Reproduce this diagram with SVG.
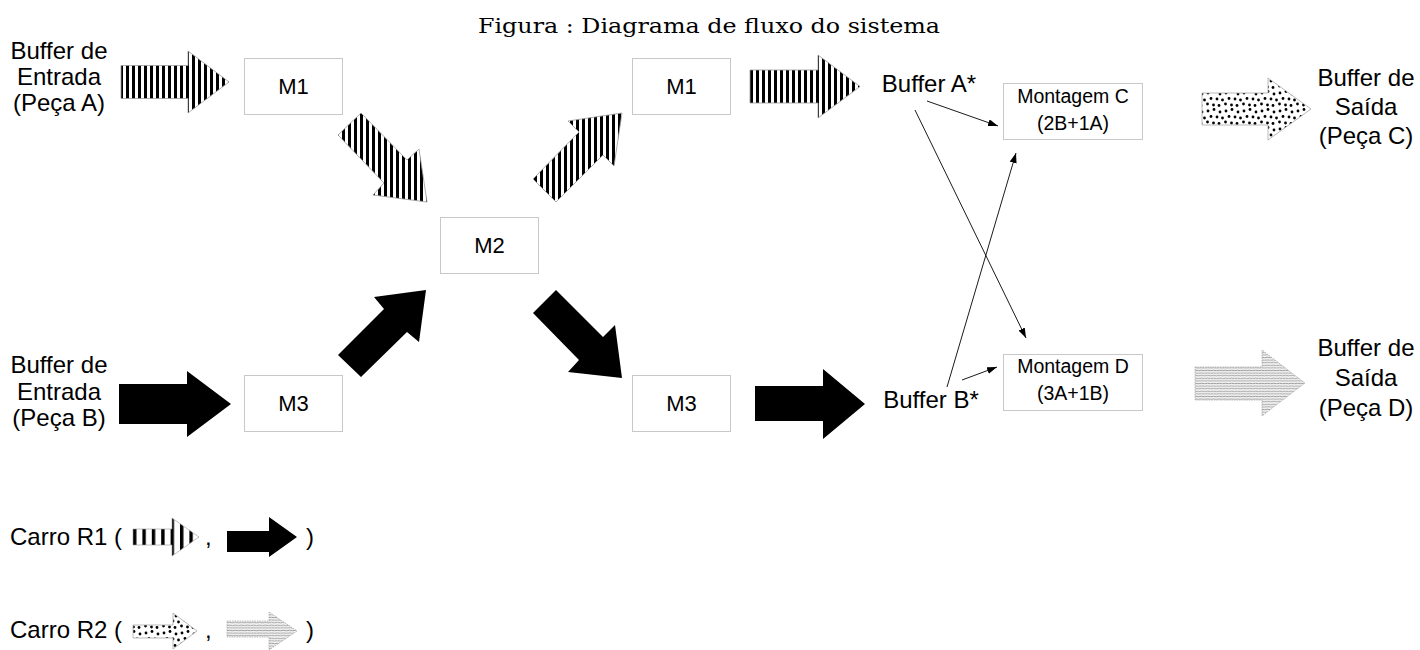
<svg xmlns="http://www.w3.org/2000/svg" width="1420" height="650" viewBox="0 0 1420 650">
  <style>
    .lbl { font-family: "Liberation Sans", Arial, sans-serif; font-size: 24px; fill: #000; text-anchor: middle; }
    .mach { font-family: "Liberation Sans", Arial, sans-serif; font-size: 22px; fill: #000; text-anchor: middle; }
    .asm { font-family: "Liberation Sans", Arial, sans-serif; font-size: 19.5px; fill: #000; text-anchor: middle; }
    .leg { font-family: "Liberation Sans", Arial, sans-serif; font-size: 24px; fill: #000; }
    .title { font-family: "DejaVu Serif", "Liberation Serif", serif; font-size: 21px; fill: #000; text-anchor: middle; }
    .box { fill: #fff; stroke: #c8c8c8; stroke-width: 1; }
    .striped { fill: url(#stripes); stroke: #999; stroke-width: 0.8; }
    .solid { fill: #000; }
    .dotted { fill: url(#dots); stroke: #aaa; stroke-width: 0.8; }
    .lined { fill: url(#hlines); stroke: #aaa; stroke-width: 0.8; stroke-dasharray: 1.5 1; }
    .conn { stroke: #000; stroke-width: 0.9; fill: none; marker-end: url(#head); }
  </style>
  <defs>
    <pattern id="stripes" patternUnits="userSpaceOnUse" width="6" height="6">
      <rect width="6" height="6" fill="#fff"/>
      <rect width="3" height="6" fill="#000"/>
    </pattern>
    <pattern id="stripesWide" patternUnits="userSpaceOnUse" width="9.4" height="6" x="133">
      <rect width="9.4" height="6" fill="#fff"/>
      <rect width="3.4" height="6" fill="#000"/>
    </pattern>
    <pattern id="dots" patternUnits="userSpaceOnUse" width="18" height="18">
      <rect width="18" height="18" fill="#fff"/>
      <g fill="#000">
        <circle cx="2" cy="3" r="1.4"/>
        <circle cx="8" cy="1.5" r="1.4"/>
        <circle cx="14" cy="4" r="1.4"/>
        <circle cx="5" cy="8.5" r="1.4"/>
        <circle cx="11" cy="9" r="1.4"/>
        <circle cx="16.5" cy="10" r="1.4"/>
        <circle cx="1.5" cy="14" r="1.4"/>
        <circle cx="7.5" cy="15" r="1.4"/>
        <circle cx="13" cy="15.5" r="1.4"/>
      </g>
    </pattern>
    <pattern id="hlines" patternUnits="userSpaceOnUse" width="6" height="2.6">
      <rect width="6" height="2.6" fill="#f2f2f2"/>
      <path d="M0 1.3 Q1.5 0.8 3 1.3 T6 1.3" stroke="#8e8e8e" stroke-width="0.8" fill="none"/>
    </pattern>
    <marker id="head" markerUnits="userSpaceOnUse" markerWidth="10" markerHeight="7" refX="10" refY="3.5" orient="auto">
      <path d="M0 0 L10 3.5 L0 7 Z" fill="#000"/>
    </marker>
  </defs>

  <!-- title -->
  <text class="title" x="709" y="33" textLength="462" lengthAdjust="spacingAndGlyphs">Figura : Diagrama de fluxo do sistema</text>

  <!-- source and sink labels -->
  <g id="buffer-in-a">
    <text class="lbl" x="59" y="59">Buffer de</text>
    <text class="lbl" x="59" y="85">Entrada</text>
    <text class="lbl" x="59" y="111">(Peça A)</text>
  </g>
  <g id="buffer-in-b">
    <text class="lbl" x="59" y="373">Buffer de</text>
    <text class="lbl" x="59" y="400">Entrada</text>
    <text class="lbl" x="59" y="426">(Peça B)</text>
  </g>
  <g id="buffer-out-c">
    <text class="lbl" x="1366" y="86">Buffer de</text>
    <text class="lbl" x="1366" y="115">Saída</text>
    <text class="lbl" x="1366" y="144">(Peça C)</text>
  </g>
  <g id="buffer-out-d">
    <text class="lbl" x="1366" y="356">Buffer de</text>
    <text class="lbl" x="1366" y="386">Saída</text>
    <text class="lbl" x="1366" y="416">(Peça D)</text>
  </g>

  <!-- machines -->
  <g id="m1-a">
    <rect class="box" x="244.5" y="58.5" width="98" height="56"/>
    <text class="mach" x="293.5" y="94">M1</text>
  </g>
  <g id="m3-a">
    <rect class="box" x="244.5" y="375.5" width="98" height="56"/>
    <text class="mach" x="293.5" y="411">M3</text>
  </g>
  <g id="m2">
    <rect class="box" x="440.5" y="217.5" width="98" height="56"/>
    <text class="mach" x="489.5" y="253">M2</text>
  </g>
  <g id="m1-b">
    <rect class="box" x="632.5" y="58.5" width="98" height="56"/>
    <text class="mach" x="681.5" y="94">M1</text>
  </g>
  <g id="m3-b">
    <rect class="box" x="632.5" y="375.5" width="98" height="56"/>
    <text class="mach" x="681.5" y="411">M3</text>
  </g>
  <g id="buffer-a">
    <text class="lbl" x="929" y="92">Buffer A*</text>
  </g>
  <g id="buffer-b">
    <text class="lbl" x="931" y="408">Buffer B*</text>
  </g>
  <g id="montagem-c">
    <rect class="box" x="1003.5" y="83.5" width="139" height="56"/>
    <text class="asm" x="1073" y="103">Montagem C</text>
    <text class="asm" x="1073" y="130">(2B+1A)</text>
  </g>
  <g id="montagem-d">
    <rect class="box" x="1003.5" y="354.5" width="139" height="56"/>
    <text class="asm" x="1073" y="373">Montagem D</text>
    <text class="asm" x="1073" y="400">(3A+1B)</text>
  </g>

  <!-- transport arrows and connectors -->
  <g id="connectors">
    <!-- carro R1, peça A -->
    <polygon class="striped" points="121,65.5 188,65.5 188,51 229,82 188,113 188,98.5 121,98.5"/>
    <polygon class="striped" points="361,113 407,160 419,149 427,202 373,195 384,183 338,135"/>
    <polygon class="striped" points="533,179 579,132 568,121 622,113 614,166 603,155 556,202"/>
    <polygon class="striped" points="750,70 818,70 818,55 860,86.5 818,118 818,103 750,103"/>
    <!-- carro R1, peça B -->
    <polygon class="solid" points="119,384 187,384 187,371 231,404 187,437 187,424 119,424"/>
    <polygon class="solid" points="338,355 384,309 374,297 426,290 419,342 407,332 361,377"/>
    <polygon class="solid" points="556,290 603,337 615,325 622,378 568,372 579,360 533,313"/>
    <polygon class="solid" points="755,386 823,386 823,369 865,404 823,439 823,421 755,421"/>
    <!-- carro R2 -->
    <polygon class="dotted" points="1202,93 1268,93 1268,78 1311,109 1268,140 1268,125 1202,125"/>
    <polygon class="lined" points="1195,367 1262,367 1262,350 1305,383 1262,416 1262,400 1195,400"/>
    <!-- buffers to assembly -->
    <line class="conn" x1="927" y1="101" x2="998" y2="126"/>
    <line class="conn" x1="915" y1="110" x2="1026" y2="338"/>
    <line class="conn" x1="947" y1="387" x2="1016" y2="153"/>
    <line class="conn" x1="962" y1="380" x2="997" y2="367"/>
  </g>

  <!-- legend -->
  <g id="legend-r1">
    <text class="leg" x="10" y="545">Carro R1 (</text>
    <polygon fill="url(#stripesWide)" stroke="#999" stroke-width="0.6" points="133,529 172,529 172,518 199,537 172,556 172,545 133,545"/>
    <text class="leg" x="205" y="545">,</text>
    <polygon class="solid" points="227,531 269,531 269,517 297,537 269,557 269,552 227,552"/>
    <text class="leg" x="306" y="545">)</text>
  </g>
  <g id="legend-r2">
    <text class="leg" x="10" y="638">Carro R2 (</text>
    <polygon class="dotted" points="133,625 173,625 173,613 197,631 173,649 173,638 133,638"/>
    <text class="leg" x="205" y="638">,</text>
    <polygon class="lined" points="227,621 269,621 269,612 297,631 269,650 269,637 227,637"/>
    <text class="leg" x="306" y="638">)</text>
  </g>
</svg>
